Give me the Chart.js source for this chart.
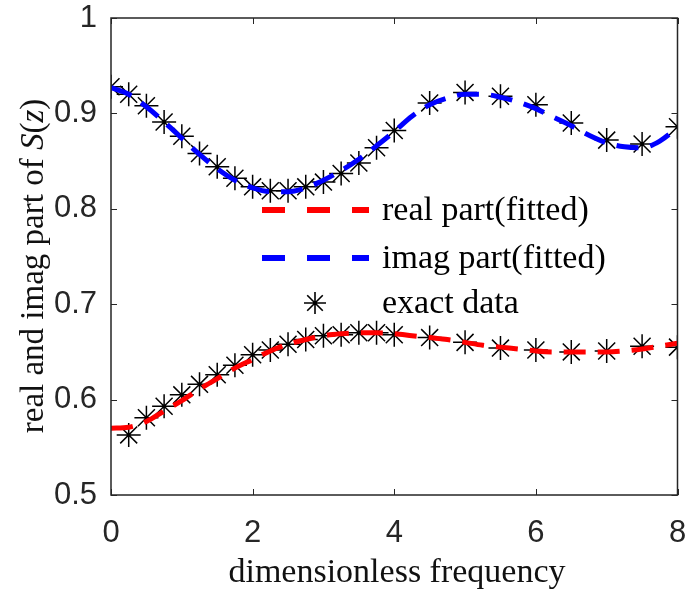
<!DOCTYPE html>
<html>
<head>
<meta charset="utf-8">
<script src="https://cdn.jsdelivr.net/npm/chart.js@4"></script>
<style>
  html, body { margin: 0; padding: 0; background: #ffffff; }
  #wrap { width: 691px; height: 591px; }
</style>
</head>
<body>
<div id="wrap"><canvas id="c" width="691" height="591"></canvas></div>
<script>
// ---- data ----
const fitX = [0,0.25,0.5,0.75,1,1.25,1.5,1.75,2,2.25,2.5,2.75,3,3.25,3.5,3.75,4,4.25,4.5,4.75,5,5.25,5.5,5.75,6,6.25,6.5,6.75,7,7.25,7.5,7.75,8];
const realFit = [0.570,0.571,0.577,0.588,0.599,0.611,0.622,0.633,0.642,0.651,0.658,0.663,0.667,0.669,0.670,0.670,0.669,0.667,0.665,0.663,0.660,0.657,0.655,0.653,0.651,0.650,0.650,0.650,0.650,0.651,0.653,0.656,0.659];
const imagFit = [0.927,0.920,0.907,0.891,0.874,0.857,0.842,0.830,0.822,0.818,0.818,0.822,0.830,0.840,0.852,0.866,0.881,0.897,0.909,0.916,0.920,0.920,0.917,0.912,0.905,0.896,0.887,0.877,0.869,0.865,0.864,0.871,0.885];

const imagExactX = [0,0.25,0.5,0.75,1,1.25,1.5,1.75,2,2.25,2.5,2.75,3,3.25,3.5,3.75,4,4.5,5,5.5,6,6.5,7,7.5,8];
const imagExact = [0.928,0.920,0.908,0.891,0.876,0.858,0.844,0.832,0.823,0.819,0.819,0.823,0.828,0.837,0.848,0.864,0.882,0.911,0.922,0.918,0.909,0.890,0.872,0.868,0.886];
const realExactX = [0.25,0.5,0.75,1,1.25,1.5,1.75,2,2.25,2.5,2.75,3,3.25,3.5,3.75,4,4.5,5,5.5,6,6.5,7,7.5,8];
const realExact = [0.563,0.581,0.593,0.605,0.616,0.626,0.636,0.647,0.652,0.658,0.663,0.667,0.668,0.670,0.670,0.668,0.665,0.660,0.654,0.652,0.650,0.651,0.656,0.655];

const xTicks = [0,2,4,6,8];
const yTicks = [0.5,0.6,0.7,0.8,0.9,1];
const xTickLabels = ['0','2','4','6','8'];
const yTickLabels = ['0.5','0.6','0.7','0.8','0.9','1'];

const seriesNames = ['real part(fitted)','imag part(fitted)','exact data'];
const xTitle = 'dimensionless frequency';
const yTitleParts = [['real and imag part of ', false], ['S', true], ['(', false], ['z', true], [')', false]];

// ---- styling ----
const AXIS = '#262626';
const SERIF = '"Liberation Serif", "Times New Roman", serif';
const SANS = '"Liberation Sans", Arial, sans-serif';
const RED = '#ff0000', BLUE = '#0000ff';
const DASH = [22, 12];

const toPts = (xs, ys) => xs.map((x, i) => ({ x: x, y: ys[i] }));

const decor = {
  id: 'decor',
  afterDraw(chart) {
    const { ctx, chartArea: a, scales } = chart;
    const xs = scales.x, ys = scales.y;
    ctx.save();
    // box
    ctx.strokeStyle = AXIS; ctx.lineWidth = 1.5;
    ctx.strokeRect(a.left, a.top, a.right - a.left, a.bottom - a.top);
    // inward ticks
    const tl = 6;
    ctx.beginPath();
    xTicks.forEach(v => {
      const px = Math.round(xs.getPixelForValue(v)) + 0.5;
      ctx.moveTo(px, a.bottom); ctx.lineTo(px, a.bottom - tl);
      ctx.moveTo(px, a.top); ctx.lineTo(px, a.top + tl);
    });
    yTicks.forEach(v => {
      const py = Math.round(ys.getPixelForValue(v)) + 0.5;
      ctx.moveTo(a.left, py); ctx.lineTo(a.left + tl, py);
      ctx.moveTo(a.right, py); ctx.lineTo(a.right - tl, py);
    });
    ctx.lineWidth = 1; ctx.stroke();

    // x title
    ctx.fillStyle = '#111';
    ctx.font = '34px ' + SERIF;
    ctx.textAlign = 'center'; ctx.textBaseline = 'middle';
    ctx.fillText(xTitle, 397, 573);

    // y title (rotated, mixed italic)
    ctx.save();
    ctx.translate(34, 266);
    ctx.rotate(-Math.PI / 2);
    let total = 0;
    const widths = yTitleParts.map(([t, it]) => {
      ctx.font = (it ? 'italic ' : '') + '33px ' + SERIF;
      const w = ctx.measureText(t).width; total += w; return w;
    });
    let cx = -total / 2;
    ctx.textAlign = 'left';
    yTitleParts.forEach(([t, it], i) => {
      ctx.font = (it ? 'italic ' : '') + '33px ' + SERIF;
      ctx.fillText(t, cx, 0);
      cx += widths[i];
    });
    ctx.restore();

    // legend
    const rows = [210, 258, 303];
    const lx0 = 262, lx1 = 369, tx = 382;
    [[RED, 0], [BLUE, 1]].forEach(([col, i]) => {
      ctx.beginPath();
      ctx.setLineDash([23, 22]);
      ctx.strokeStyle = col; ctx.lineWidth = 6;
      ctx.moveTo(lx0, rows[i]); ctx.lineTo(lx1, rows[i]);
      ctx.stroke();
    });
    ctx.setLineDash([]);
    // star
    const sx = 315, sy = rows[2], r = 11;
    ctx.beginPath();
    ctx.strokeStyle = '#000'; ctx.lineWidth = 1.6;
    for (let k = 0; k < 4; k++) {
      const ang = k * Math.PI / 4;
      ctx.moveTo(sx - r * Math.cos(ang), sy - r * Math.sin(ang));
      ctx.lineTo(sx + r * Math.cos(ang), sy + r * Math.sin(ang));
    }
    ctx.stroke();
    ctx.fillStyle = '#000';
    ctx.font = '34px ' + SERIF;
    ctx.textAlign = 'left'; ctx.textBaseline = 'middle';
    seriesNames.forEach((n, i) => ctx.fillText(n, tx, rows[i] + 1));
    ctx.restore();
  }
};

new Chart(document.getElementById('c'), {
  type: 'scatter',
  data: {
    datasets: [
      { type: 'line', label: seriesNames[0], data: toPts(fitX, realFit), borderColor: RED, borderWidth: 5, borderDash: DASH, pointRadius: 0, tension: 0.4, cubicInterpolationMode: 'monotone', fill: false, order: 0 },
      { type: 'line', label: seriesNames[1], data: toPts(fitX, imagFit), borderColor: BLUE, borderWidth: 5, borderDash: DASH, pointRadius: 0, tension: 0.4, cubicInterpolationMode: 'monotone', fill: false, order: 0 },
      { label: seriesNames[2], data: toPts(imagExactX, imagExact), pointStyle: 'star', pointRadius: 12, borderColor: '#000', backgroundColor: '#000', pointBorderWidth: 1.5, showLine: false, order: 1 },
      { label: seriesNames[2], data: toPts(realExactX, realExact), pointStyle: 'star', pointRadius: 12, borderColor: '#000', backgroundColor: '#000', pointBorderWidth: 1.5, showLine: false, order: 1 }
    ]
  },
  options: {
    responsive: false,
    animation: false,
    devicePixelRatio: 1,
    layout: { padding: { left: 0, right: 8, top: 18, bottom: 0 } },
    plugins: { legend: { display: false }, tooltip: { enabled: false } },
    scales: {
      x: {
        type: 'linear', min: 0, max: 8,
        afterBuildTicks: s => { s.ticks = xTicks.map(v => ({ value: v })); },
        afterFit: s => { s.height = 96; s.paddingLeft = 0; s.paddingRight = 0; },
        grid: { display: false, drawTicks: false },
        border: { display: false },
        ticks: { color: AXIS, padding: 20, font: { family: SANS, size: 31 }, maxRotation: 0,
                 callback: (v) => xTickLabels[xTicks.indexOf(v)] }
      },
      y: {
        type: 'linear', min: 0.5, max: 1,
        afterBuildTicks: s => { s.ticks = yTicks.map(v => ({ value: v })); },
        afterFit: s => { s.width = 111; s.paddingTop = 0; s.paddingBottom = 0; },
        grid: { display: false, drawTicks: false },
        border: { display: false },
        ticks: { color: AXIS, padding: 14, font: { family: SANS, size: 31 },
                 callback: (v) => yTickLabels[yTicks.findIndex(t => Math.abs(t - v) < 1e-9)] }
      }
    }
  },
  plugins: [decor]
});
</script>
</body>
</html>
